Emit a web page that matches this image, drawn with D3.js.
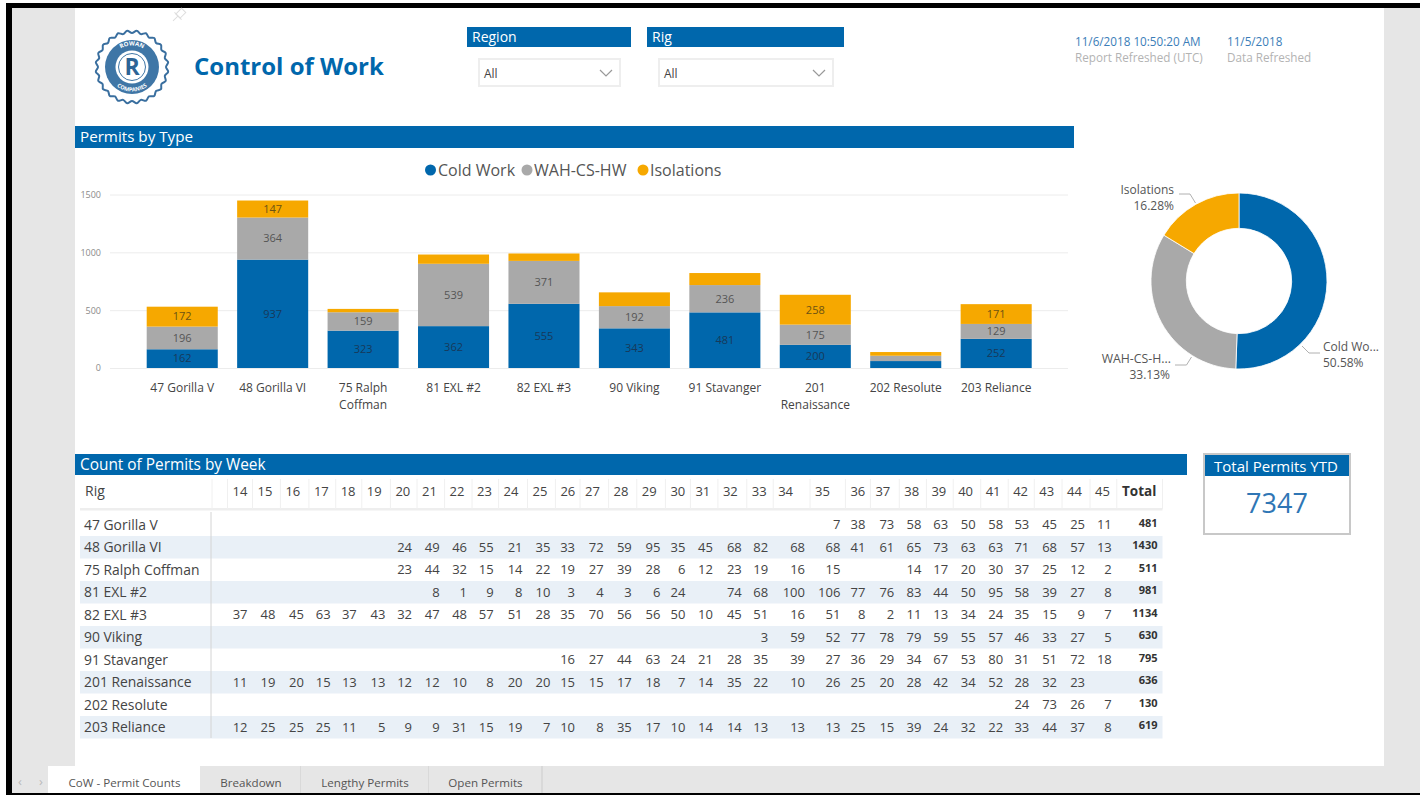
<!DOCTYPE html>
<html>
<head>
<meta charset="utf-8">
<title>Control of Work</title>
<script src="https://cdnjs.cloudflare.com/ajax/libs/d3/7.8.5/d3.min.js"></script>
<style>
body { margin: 0; background: #fff; }
svg { display: block; font-family: "Open Sans", "Noto Sans", sans-serif; }
svg .tick text { font-family: "Open Sans", "Noto Sans", sans-serif; }
</style>
</head>
<body>
<div id="chart"></div>
<script>
const _ = null

// data
const rigs = ["47 Gorilla V", "48 Gorilla VI", "75 Ralph Coffman", "81 EXL #2", "82 EXL #3", "90 Viking", "91 Stavanger", "201 Renaissance", "202 Resolute", "203 Reliance"]
const coldWork = [162, 937, 323, 362, 555, 343, 481, 200, 60, 252]
const wahCsHw = [196, 364, 159, 539, 371, 192, 236, 175, 46, 129]
const isolations = [172, 147, 29, 80, 64, 119, 104, 258, 32, 171]
const seriesNames = ["Cold Work", "WAH-CS-HW", "Isolations"]
const yTicks = [0, 500, 1000, 1500]

const donutLabels = ["Cold Wo...", "WAH-CS-H...", "Isolations"]
const donutShares = [50.58, 33.13, 16.28]

const weeks = d3.range(14, 46)
const gorillaV = [_, _, _, _, _, _, _, _, _, _, _, _, _, _, _, _, _, _, _, _, _, 7, 38, 73, 58, 63, 50, 58, 53, 45, 25, 11]
const gorillaVI = [_, _, _, _, _, _, 24, 49, 46, 55, 21, 35, 33, 72, 59, 95, 35, 45, 68, 82, 68, 68, 41, 61, 65, 73, 63, 63, 71, 68, 57, 13]
const ralphCoffman = [_, _, _, _, _, _, 23, 44, 32, 15, 14, 22, 19, 27, 39, 28, 6, 12, 23, 19, 16, 15, _, _, 14, 17, 20, 30, 37, 25, 12, 2]
const exl2 = [_, _, _, _, _, _, _, 8, 1, 9, 8, 10, 3, 4, 3, 6, 24, _, 74, 68, 100, 106, 77, 76, 83, 44, 50, 95, 58, 39, 27, 8]
const exl3 = [37, 48, 45, 63, 37, 43, 32, 47, 48, 57, 51, 28, 35, 70, 56, 56, 50, 10, 45, 51, 16, 51, 8, 2, 11, 13, 34, 24, 35, 15, 9, 7]
const viking = [_, _, _, _, _, _, _, _, _, _, _, _, _, _, _, _, _, _, _, 3, 59, 52, 77, 78, 79, 59, 55, 57, 46, 33, 27, 5]
const stavanger = [_, _, _, _, _, _, _, _, _, _, _, _, 16, 27, 44, 63, 24, 21, 28, 35, 39, 27, 36, 29, 34, 67, 53, 80, 31, 51, 72, 18]
const renaissance = [11, 19, 20, 15, 13, 13, 12, 12, 10, 8, 20, 20, 15, 15, 17, 18, 7, 14, 35, 22, 10, 26, 25, 20, 28, 42, 34, 52, 28, 32, 23, _]
const resolute = [_, _, _, _, _, _, _, _, _, _, _, _, _, _, _, _, _, _, _, _, _, _, _, _, _, _, _, _, 24, 73, 26, 7]
const reliance = [12, 25, 25, 25, 11, 5, 9, 9, 31, 15, 19, 7, 10, 8, 35, 17, 10, 14, 14, 13, 13, 13, 25, 15, 39, 24, 32, 22, 33, 44, 37, 8]
const weekRows = [gorillaV, gorillaVI, ralphCoffman, exl2, exl3, viking, stavanger, renaissance, resolute, reliance]
const rowTotals = [481, 1430, 511, 981, 1134, 630, 795, 636, 130, 619]
const totalPermits = 7347

const tabs = ["CoW - Permit Counts", "Breakdown", "Lengthy Permits", "Open Permits"]

// colours and layout
const blue = "#0067ac"
const grey = "#a9a9a9"
const orange = "#f6a800"
const colors = [blue, grey, orange]
const labelColors = ["#17395a", "#555", "#6b5213"]
const textColor = "#444"

// left edge of each table column, the table is not evenly spaced
const colEdges = [227.5, 252.5, 280.4, 308.9, 335.7, 361.8, 390.4, 417, 444.6, 472, 498.6, 527.5, 555.4, 580, 608.6, 636.8, 665.4, 690.4, 717.9, 746.8, 773.2, 810, 845.4, 870.4, 899.3, 926.4, 953.2, 980.7, 1008.2, 1034.3, 1062, 1090, 1116.8, 1162.5]

const svg = d3.select("#chart").append("svg").attr("width", 1420).attr("height", 795)

function box(x, y, w, h, fill, stroke) {
    return svg.append("rect").attr("x", x).attr("y", y).attr("width", w).attr("height", h)
        .attr("fill", fill).attr("stroke", stroke || "none")
}
function label(x, y, txt, size, color, anchor, weight) {
    return svg.append("text").attr("x", x).attr("y", y).attr("dy", "0.35em")
        .attr("text-anchor", anchor || "start")
        .style("font-size", size + "px")
        .style("font-weight", weight || 400)
        .attr("fill", color)
        .text(txt)
}

// window frame and grey margins
box(0, 0, 1420, 795, "#fff")
box(12, 8, 63, 758, "#e6e6e6")
box(1384, 8, 36, 758, "#e6e6e6")
box(12, 766, 1408, 27, "#e6e6e6")
box(6, 3, 1414, 5, "#000")
box(6, 3, 6, 792, "#000")
box(6, 793, 1414, 2, "#000")

// logo
const logo = svg.append("g").attr("transform", "translate(132,67)")
const scallop = d3.lineRadial().curve(d3.curveCardinalClosed)
    .angle(d => d / 48 * 2 * Math.PI)
    .radius(d => d % 2 ? 36.5 : 34)
logo.append("path").attr("d", scallop(d3.range(48))).attr("fill", "#fff").attr("stroke", "#3a6f9f").attr("stroke-width", 2)
logo.append("circle").attr("r", 27).attr("fill", "#3f76a6")
logo.append("circle").attr("r", 16.5).attr("fill", "#fff")
logo.append("circle").attr("r", 13.5).attr("fill", "#fff").attr("stroke", "#3f76a6").attr("stroke-width", 1)
logo.append("text").attr("text-anchor", "middle").attr("y", 8).style("font-size", "23px").style("font-weight", 700)
    .attr("fill", "#2c6496").text("R")
logo.append("path").attr("id", "logoTop").attr("d", "M-21.5,0A21.5,21.5 0 0 1 21.5,0").attr("fill", "none")
logo.append("path").attr("id", "logoBottom").attr("d", "M-24.5,0A24.5,24.5 0 0 0 24.5,0").attr("fill", "none")
logo.append("text").style("font-size", "6px").style("font-weight", 700).attr("fill", "#fff").attr("text-anchor", "middle")
    .append("textPath").attr("href", "#logoTop").attr("startOffset", "50%").text("ROWAN")
logo.append("text").style("font-size", "5.5px").style("font-weight", 700).attr("fill", "#fff").attr("text-anchor", "middle")
    .append("textPath").attr("href", "#logoBottom").attr("startOffset", "50%").text("COMPANIES")

// pin icon
svg.append("g").attr("transform", "translate(178,16) rotate(45)")
    .call(g => g.append("rect").attr("x", -3).attr("y", -8).attr("width", 6).attr("height", 8).attr("fill", "none").attr("stroke", "#ddd"))
    .call(g => g.append("line").attr("x1", -5).attr("x2", 5).attr("y1", 0).attr("y2", 0).attr("stroke", "#ddd"))
    .call(g => g.append("line").attr("x1", 0).attr("x2", 0).attr("y1", 0).attr("y2", 7).attr("stroke", "#ddd"))

label(194, 67, "Control of Work", 24, blue, "start", 700)

// slicers
function slicer(x, w, title, dropX, dropW) {
    box(x, 27, w, 20, blue)
    label(x + 5, 37.5, title, 14, "#fff")
    box(dropX, 59, dropW, 27, "#fff", "#eee").attr("stroke-width", 2)
    label(dropX + 5, 73.5, "All", 12, "#444")
    const cx = dropX + dropW - 14
    svg.append("path").attr("d", d3.line()([[cx - 6, 70], [cx, 76], [cx + 6, 70]]))
        .attr("fill", "none").attr("stroke", "#999").attr("stroke-width", 1.2)
}
slicer(467, 164, "Region", 479, 141)
slicer(647, 197, "Rig", 659, 174)

label(1075, 42, "11/6/2018 10:50:20 AM", 11.7, "#3a7db8")
label(1075, 58, "Report Refreshed (UTC)", 11.7, "#b3b3b3")
label(1227, 42, "11/5/2018", 11.7, "#3a7db8")
label(1227, 58, "Data Refreshed", 11.7, "#b3b3b3")

// stacked bars
box(75, 126, 999, 22, blue)
label(80, 137, "Permits by Type", 15.2, "#fff")

const legendX = [[430.5, 438], [527, 534], [643, 650]]
seriesNames.forEach((s, i) => {
    svg.append("circle").attr("cx", legendX[i][0]).attr("cy", 170).attr("r", 5.5).attr("fill", colors[i])
    label(legendX[i][1], 170, s, 16, "#555")
})

const x = d3.scaleBand().domain(rigs).range([146.7, 1031.7]).paddingInner(0.2143).paddingOuter(0)
const y = d3.scaleLinear().domain([0, 1500]).range([368, 194.5])

svg.append("g").attr("transform", "translate(110,0)")
    .call(d3.axisLeft(y).tickValues(yTicks).tickFormat(d3.format("d")).tickSize(-958).tickPadding(9))
    .call(g => g.select(".domain").remove())
    .call(g => g.selectAll("line").attr("stroke", "#ececec"))
    .call(g => g.selectAll("text").attr("fill", "#8a8a8a").style("font-size", "9px"))

const barData = rigs.map((r, i) => ({rig: r, "Cold Work": coldWork[i], "WAH-CS-HW": wahCsHw[i], "Isolations": isolations[i]}))
const stacked = d3.stack().keys(seriesNames)(barData)

const layers = svg.selectAll(".layer").data(stacked).enter().append("g").attr("class", "layer")
layers.selectAll("rect").data(d => d).enter().append("rect")
    .attr("x", d => x(d.data.rig))
    .attr("width", x.bandwidth())
    .attr("y", d => y(d[1]))
    .attr("height", d => y(d[0]) - y(d[1]))
    .attr("fill", (d, i, n) => colors[seriesNames.indexOf(d3.select(n[i].parentNode).datum().key)])
// small segments get no label in the report
layers.each(function(layer, li) {
    d3.select(this).selectAll("text").data(layer.filter(d => d[1] - d[0] >= 125)).enter().append("text")
        .attr("x", d => x(d.data.rig) + x.bandwidth() / 2)
        .attr("y", d => y((d[0] + d[1]) / 2))
        .attr("dy", "0.35em")
        .attr("text-anchor", "middle")
        .style("font-size", "11px")
        .attr("fill", labelColors[li])
        .text(d => d[1] - d[0])
})

svg.append("g").attr("transform", "translate(0,368)")
    .call(d3.axisBottom(x).tickSize(0).tickPadding(15))
    .call(g => g.select(".domain").remove())
    .call(g => g.selectAll("text").style("font-size", "12px").attr("fill", textColor)
        .each(function(d) {
            // long rig names wrap after the number/first word
            const parts = d === "75 Ralph Coffman" ? ["75 Ralph", "Coffman"] : d === "201 Renaissance" ? ["201", "Renaissance"] : [d]
            const t = d3.select(this).text(null)
            parts.forEach((p, i) => t.append("tspan").attr("x", 0).attr("dy", i ? "17px" : "0.71em").text(p))
        }))

// donut
const donut = svg.append("g").attr("transform", "translate(1239,281)")
const arc = d3.arc().innerRadius(52.7).outerRadius(88)
const pie = d3.pie().sort(null)(donutShares)
donut.selectAll("path").data(pie).enter().append("path")
    .attr("d", arc).attr("fill", (d, i) => colors[i]).attr("stroke", "#fff").attr("stroke-width", 0.8)

const leaders = [[[63, 65], [70, 72], [81, 72]], [[-47.5, 76], [-52.5, 84], [-64, 84]], [[-43.5, -78], [-49, -87], [-60, -87]]]
const leaderLine = d3.line()
leaders.forEach(p => donut.append("path").attr("d", leaderLine(p)).attr("fill", "none").attr("stroke", "#b0b0b0"))
label(1323, 347, donutLabels[0], 12, "#555")
label(1323, 363, donutShares[0].toFixed(2) + "%", 12, "#555")
label(1171, 359, donutLabels[1], 12.3, "#555", "end")
label(1170, 375, donutShares[1].toFixed(2) + "%", 12, "#555", "end")
label(1174, 190, donutLabels[2], 12, "#555", "end")
label(1174, 206, donutShares[2].toFixed(2) + "%", 12, "#555", "end")

// table
box(75, 454, 1112, 21, blue)
label(80, 464.5, "Count of Permits by Week", 15.4, "#fff")

const rowY = d3.scaleBand().domain(rigs).range([513.5, 738.5])
const colX = d3.scaleOrdinal().domain(weeks.concat("Total")).range(colEdges)
const colEnd = d3.scaleOrdinal().domain(weeks.concat("Total")).range(colEdges.slice(1))

rigs.forEach((r, i) => {
    if (i % 2) box(80, rowY(r), 1082.5, rowY.bandwidth(), "#e9f0f7")
})
box(80, 508, 1082.5, 2.5, "#eee")
svg.selectAll(".headSep").data(colEdges.concat(212)).enter().append("line")
    .attr("x1", d => d).attr("x2", d => d).attr("y1", 479).attr("y2", 509)
    .attr("stroke", "#f0f0f0")
svg.append("line").attr("x1", 211).attr("x2", 211).attr("y1", 512).attr("y2", 738).attr("stroke", "#d4d4d4")

label(85, 491, "Rig", 14, textColor)
weeks.forEach(w => label(colX(w) + 5, 491.5, w, 13, textColor))
label(1122, 491, "Total", 13.5, "#333", "start", 700)

rigs.forEach((r, i) => {
    const cy = rowY(r) + rowY.bandwidth() / 2
    label(84, cy, r, 13.9, textColor)
    const row = svg.append("g")
    row.selectAll("text").data(weekRows[i].map((v, j) => ({week: weeks[j], v: v})).filter(d => d.v !== null))
        .enter().append("text")
        .attr("x", d => colEnd(d.week) - 5)
        .attr("y", cy)
        .attr("dy", "0.35em")
        .attr("text-anchor", "end")
        .style("font-size", "13px")
        .attr("fill", textColor)
        .text(d => d.v)
    label(1157.5, cy - 2, rowTotals[i], 11, "#333", "end", 700)
})

// KPI card
box(1204, 454, 146, 80, "#fff", "#c8c8c8").attr("stroke-width", 2)
box(1205, 455, 144, 21, blue)
label(1276, 466.5, "Total Permits YTD", 15, "#fff", "middle")
label(1277, 504, totalPermits, 27, "#2f76b5", "middle")

// page tabs
const tabEdges = [48, 201, 301, 429, 542]
tabs.forEach((t, i) => {
    box(tabEdges[i], 766, tabEdges[i + 1] - tabEdges[i], 27, i === 0 ? "#fff" : "#e6e6e6")
    svg.append("line").attr("x1", tabEdges[i + 1]).attr("x2", tabEdges[i + 1]).attr("y1", 766).attr("y2", 793).attr("stroke", "#ccc")
    label((tabEdges[i] + tabEdges[i + 1]) / 2, 783, t, 11.6, "#555", "middle")
})
label(18, 781, "‹", 13, "#bbb")
label(39, 781, "›", 13, "#bbb")
</script>
</body>
</html>
